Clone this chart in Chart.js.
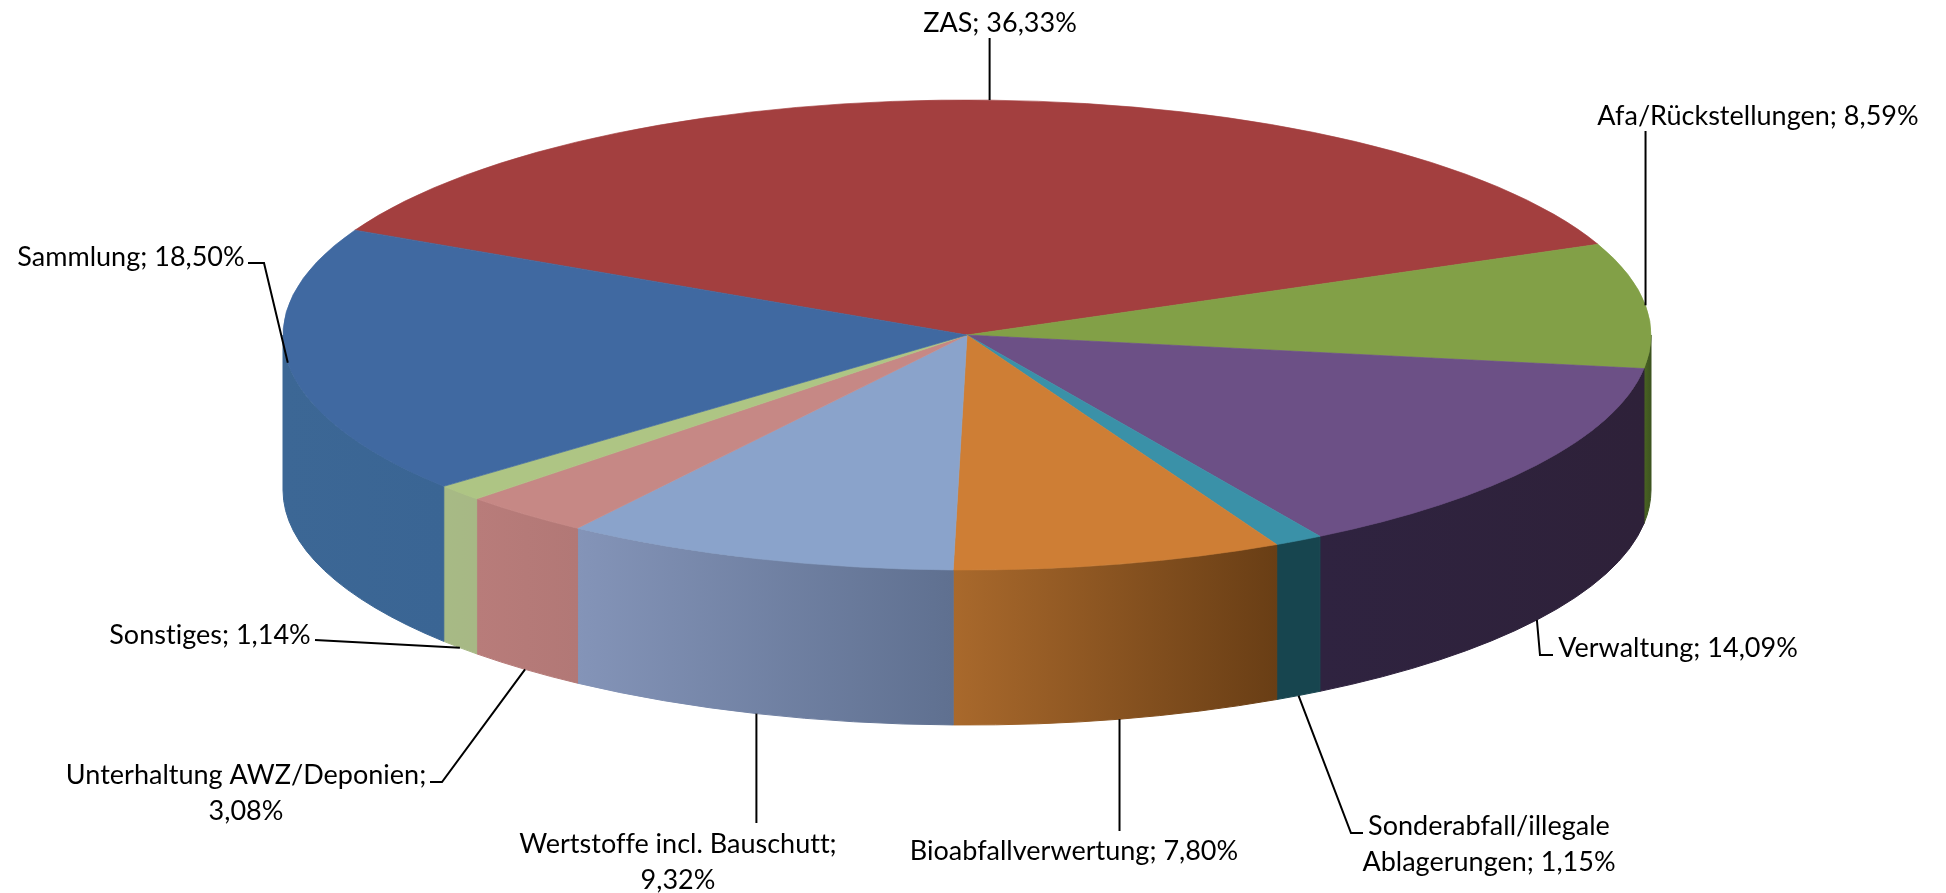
<!DOCTYPE html>
<html>
<head>
<meta charset="utf-8">
<title>Kostenverteilung</title>
<script src="https://cdn.jsdelivr.net/npm/chart.js@4"></script>
<style>
  html, body { margin: 0; padding: 0; background: #fff; }
  canvas { display: block; }
</style>
</head>
<body>
<canvas id="pie3d" width="1946" height="893"></canvas>
<script>
const categories = ['ZAS', 'Afa/Rückstellungen', 'Verwaltung', 'Sonderabfall/illegale Ablagerungen', 'Bioabfallverwertung', 'Wertstoffe incl. Bauschutt', 'Unterhaltung AWZ/Deponien', 'Sonstiges', 'Sammlung'];
const shares = [36.33, 8.59, 14.09, 1.15, 7.80, 9.32, 3.08, 1.14, 18.50];

const topColors = ['#a33f3f', '#82a047', '#6c5086', '#3a91a8', '#ce7e35', '#8aa3cb', '#c68885', '#aec584', '#4069a1'];
// wall colours, left and right end of the shading
const wallLeft = ['#7a2f2f', '#4a6422', '#2f2340', '#17454f', '#a9692c', '#8494b8', '#b87c7a', '#a7ba85', '#3c6795'];
const wallRight = ['#7a2f2f', '#3d5420', '#2e2139', '#17454f', '#693e15', '#5f7090', '#b27876', '#a7b885', '#3a6594'];

// where each label sits and how its leader bends, upTo = straight up or down from the slice
const labelLayout = [
  { x: 1000, y: 32, from: 'top', upTo: 38 },
  { x: 1758, y: 125, from: 'top', upTo: 131 },
  { x: 1678, y: 657, from: 'bottom', path: [[1540, 655], [1553, 655]] },
  { x: 1489, y: 835, from: 'bottom', breakAfter: 'illegale', path: [[1351, 833], [1363, 833]] },
  { x: 1074, y: 860, from: 'bottom', upTo: 831 },
  { x: 678, y: 853, from: 'bottom', breakAfter: 'Bauschutt;', upTo: 823 },
  { x: 246, y: 784, from: 'bottom', breakAfter: 'Deponien;', path: [[442, 782], [430, 782]] },
  { x: 210, y: 644, from: 'bottom', path: [[315, 640]] },
  { x: 131, y: 266, from: 'top', path: [[264, 263], [248, 263]] }
];

const radiusX = 684;
const squash = 235 / 684;
const depth = 155;
const lineGap = 36;

function inFront(arc) {
  // part of the slice that faces the viewer, angles between 0 and PI
  const { startAngle, endAngle } = arc;
  for (const turn of [0, -2 * Math.PI, 2 * Math.PI]) {
    const a = Math.max(startAngle + turn, 0);
    const b = Math.min(endAngle + turn, Math.PI);
    if (b > a) return [a, b];
  }
  return null;
}

const pie3d = {
  id: 'pie3d',
  beforeDatasetsDraw(chart) {
    const ctx = chart.ctx;
    chart.getDatasetMeta(0).data.forEach((arc, i) => {
      const range = inFront(arc);
      if (!range) return;
      const ry = arc.outerRadius * squash;
      const x0 = arc.x + arc.outerRadius * Math.cos(range[0]);
      const x1 = arc.x + arc.outerRadius * Math.cos(range[1]);
      const grad = ctx.createLinearGradient(Math.min(x0, x1), 0, Math.max(x0, x1), 0);
      grad.addColorStop(0, wallLeft[i]);
      grad.addColorStop(1, wallRight[i]);
      ctx.beginPath();
      ctx.ellipse(arc.x, arc.y, arc.outerRadius, ry, 0, range[0], range[1]);
      ctx.ellipse(arc.x, arc.y + depth, arc.outerRadius, ry, 0, range[1], range[0], true);
      ctx.closePath();
      ctx.fillStyle = grad;
      ctx.strokeStyle = grad;
      ctx.lineWidth = 1;
      ctx.fill();
      ctx.stroke();
    });
    // squash the pie into the top face
    const first = chart.getDatasetMeta(0).data[0];
    ctx.save();
    ctx.translate(first.x, first.y);
    ctx.scale(1, squash);
    ctx.translate(-first.x, -first.y);
  },
  afterDatasetsDraw(chart) {
    const ctx = chart.ctx;
    ctx.restore();
    ctx.font = '27px Lato';
    ctx.letterSpacing = '0.01px'; // keeps the browser from joining "ti" into a ligature
    ctx.textAlign = 'center';
    ctx.textBaseline = 'alphabetic';
    ctx.fillStyle = '#000';
    chart.getDatasetMeta(0).data.forEach((arc, i) => {
      const spot = labelLayout[i];
      const mid = (arc.startAngle + arc.endAngle) / 2;
      const ax = arc.x + arc.outerRadius * Math.cos(mid);
      let ay = arc.y + arc.outerRadius * squash * Math.sin(mid);
      if (spot.from === 'bottom') ay += depth;
      const path = spot.path || [[ax, spot.upTo]];
      ctx.beginPath();
      ctx.moveTo(ax, ay);
      path.forEach(p => ctx.lineTo(p[0], p[1]));
      ctx.strokeStyle = '#000';
      ctx.lineWidth = 2;
      ctx.stroke();

      let text = categories[i] + '; ' + shares[i].toFixed(2).replace('.', ',') + '%';
      if (spot.breakAfter) text = text.replace(spot.breakAfter + ' ', spot.breakAfter + '\n');
      text.split('\n').forEach((line, n) => ctx.fillText(line, spot.x, spot.y + n * lineGap));
    });
  }
};

new Chart(document.getElementById('pie3d'), {
  type: 'pie',
  data: {
    labels: categories,
    datasets: [{
      data: shares,
      backgroundColor: topColors,
      borderColor: topColors,
      borderWidth: 1
    }]
  },
  options: {
    responsive: false,
    animation: false,
    radius: radiusX,
    rotation: 296.5,
    layout: { padding: { right: 12, bottom: 223 } },
    plugins: { legend: { display: false }, tooltip: { enabled: false } }
  },
  plugins: [pie3d]
});
</script>
</body>
</html>
